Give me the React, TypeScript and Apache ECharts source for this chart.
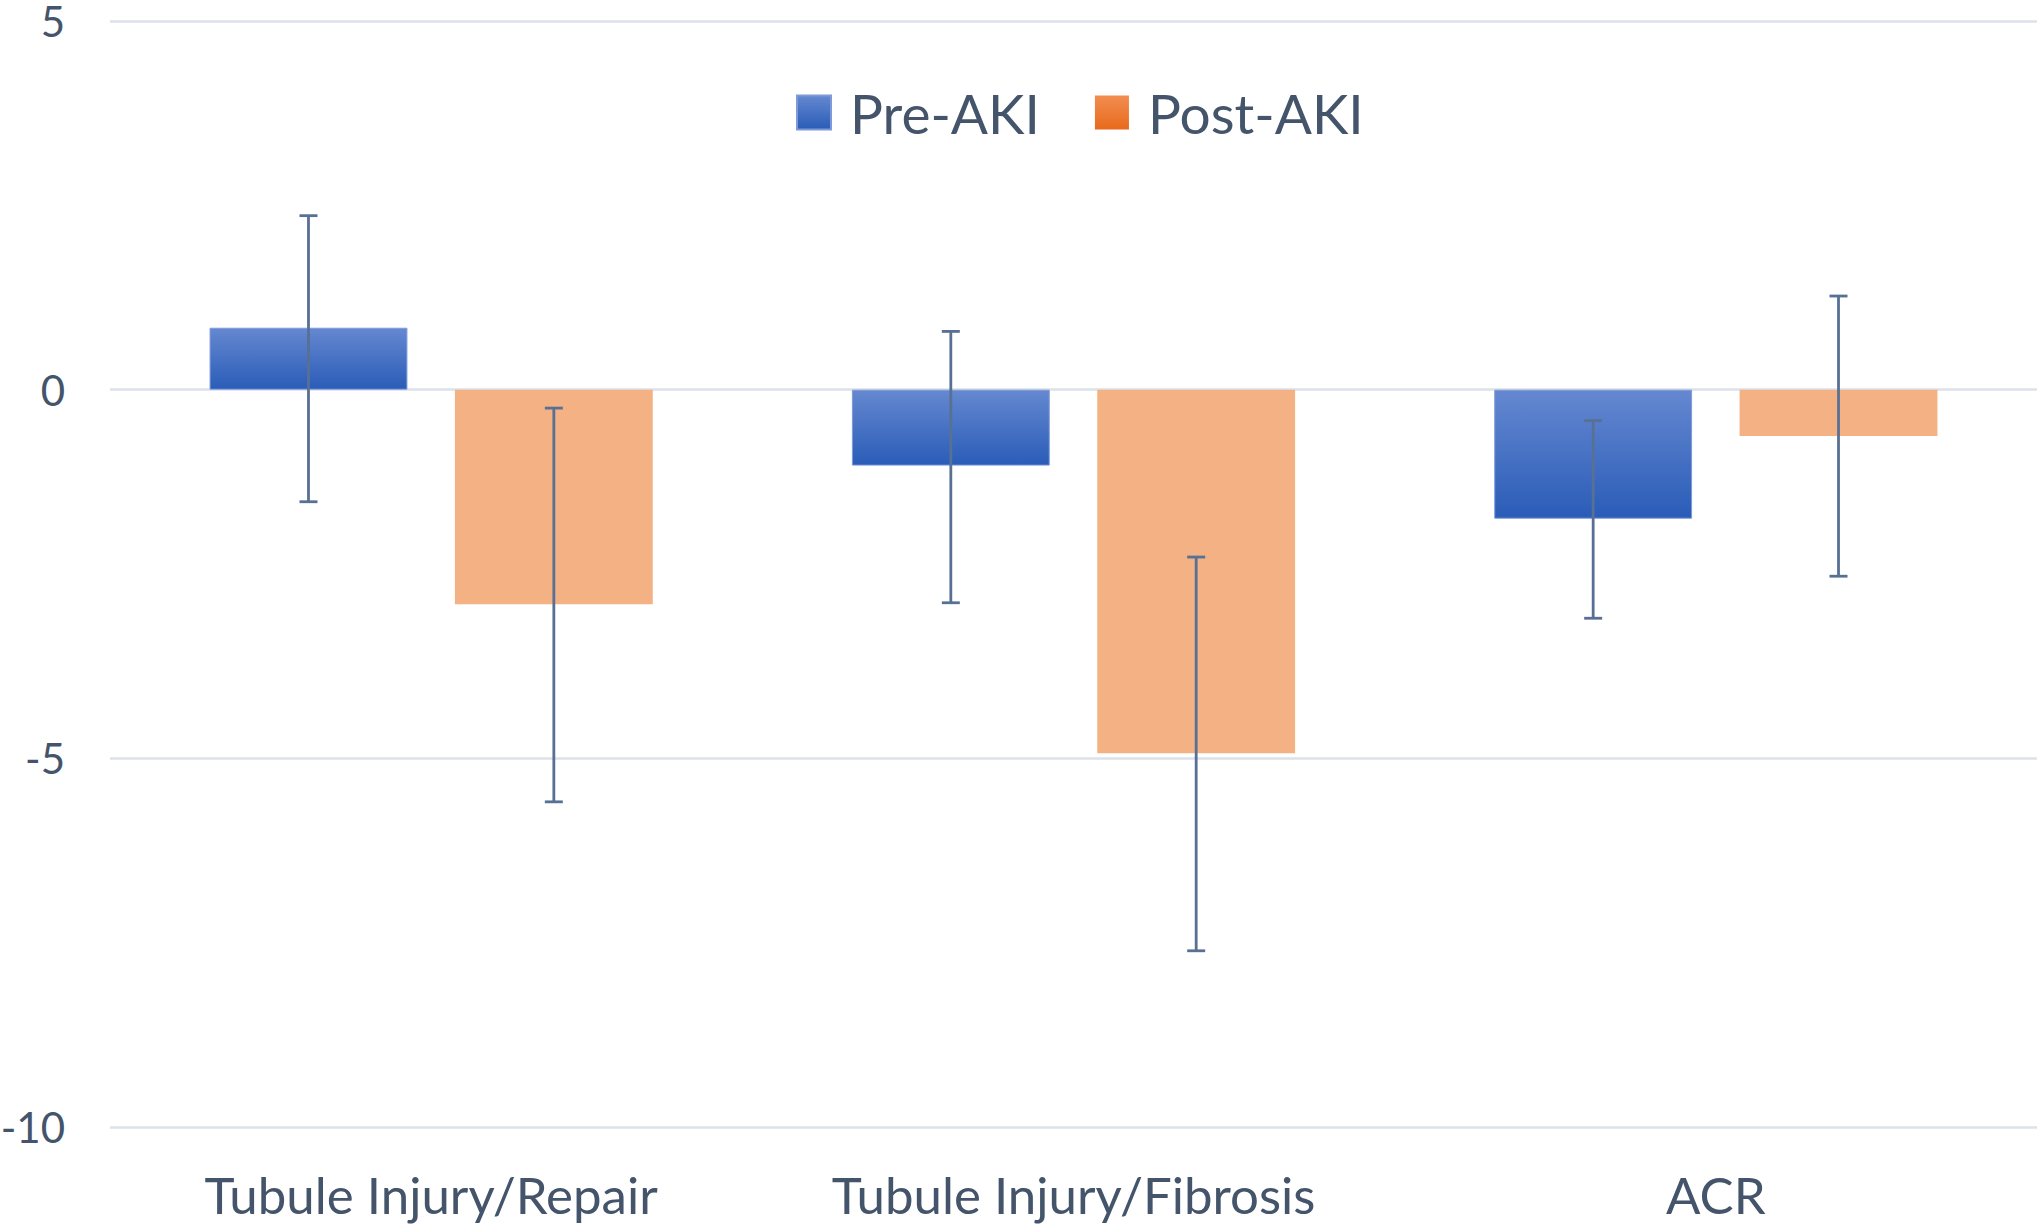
import React, { useEffect, useRef } from "react";
import * as echarts from "echarts";

const categories = ["Tubule Injury/Repair", "Tubule Injury/Fibrosis", "ACR"];
const seriesNames = ["Pre-AKI", "Post-AKI"];
const preValues = [0.84, -1.03, -1.75];
const postValues = [-2.91, -4.93, -0.63];
const preErrLow = [-1.52, -2.89, -3.1];
const preErrHigh = [2.36, 0.79, -0.42];
const postErrLow = [-5.59, -7.61, -2.53];
const postErrHigh = [-0.25, -2.27, 1.27];
const yTicks = { min: -10, max: 5, interval: 5 };

const TEXT = "#44546a";
const FONT = "Lato";
const CAT_GAP = 0.31;
const BAR_GAP = 0.24;

function errSeries(name: string, lows: number[], highs: number[], side: number) {
  return {
    type: "custom",
    name: name + " error",
    z: 10,
    silent: true,
    encode: { x: 0, y: [1, 2] },
    data: lows.map((lo, i) => [i, lo, highs[i]]),
    renderItem: (params: any, api: any) => {
      const idx = api.value(0);
      const lo = api.coord([idx, api.value(1)]);
      const hi = api.coord([idx, api.value(2)]);
      const band = api.size([1, 0])[0];
      const bw = (band * (1 - CAT_GAP)) / (2 + BAR_GAP);
      const off = ((bw + bw * BAR_GAP) / 2) * side;
      const x = lo[0] + off;
      const cap = 9;
      const style = { stroke: "#587094", lineWidth: 2.8, fill: "none" };
      return {
        type: "group",
        children: [
          { type: "line", shape: { x1: x, y1: hi[1], x2: x, y2: lo[1] }, style },
          { type: "line", shape: { x1: x - cap, y1: hi[1], x2: x + cap, y2: hi[1] }, style },
          { type: "line", shape: { x1: x - cap, y1: lo[1], x2: x + cap, y2: lo[1] }, style },
        ],
      };
    },
  };
}

export default function App() {
  const ref = useRef<HTMLDivElement>(null);
  useEffect(() => {
    document.body.style.margin = "0";
    if (!ref.current) return;
    const chart = echarts.init(ref.current, null, { renderer: "svg" });
    const preGrad = new echarts.graphic.LinearGradient(0, 0, 0, 1, [
      { offset: 0, color: "#6588d0" },
      { offset: 1, color: "#2a5cb8" },
    ]);
    const preLegendGrad = new echarts.graphic.LinearGradient(0, 0, 0, 1, [
      { offset: 0, color: "#6588d0" },
      { offset: 1, color: "#2a5cb8" },
    ]);
    const postLegendGrad = new echarts.graphic.LinearGradient(0, 0, 0, 1, [
      { offset: 0, color: "#f28d51" },
      { offset: 1, color: "#e86a1c" },
    ]);
    chart.setOption({
      animation: false,
      backgroundColor: "#ffffff",
      grid: { left: 110, right: 3, top: 21, bottom: 102, containLabel: false, outerBoundsMode: "none" },
      legend: {
        left: 791,
        top: 80,
        itemWidth: 34,
        itemHeight: 34,
        itemGap: 55,
        icon: "rect",
        data: [
          { name: seriesNames[0], itemStyle: { color: preLegendGrad } },
          { name: seriesNames[1], itemStyle: { color: postLegendGrad } },
        ],
        textStyle: { fontSize: 55, color: TEXT, fontFamily: FONT, padding: [0, 0, 0, 14] },
      },
      xAxis: {
        type: "category",
        data: categories,
        axisLine: { show: false },
        axisTick: { show: false },
        axisLabel: { fontSize: 51, color: TEXT, fontFamily: FONT, margin: 42 },
        splitLine: { show: false },
      },
      yAxis: {
        type: "value",
        min: yTicks.min,
        max: yTicks.max,
        interval: yTicks.interval,
        axisLine: { show: false },
        axisTick: { show: false },
        axisLabel: { fontSize: 42, lineHeight: 40, color: TEXT, fontFamily: FONT, margin: 45 },
        splitLine: { lineStyle: { color: "#dde1e9", width: 2.5 } },
      },
      series: [
        {
          type: "bar",
          name: seriesNames[0],
          data: preValues,
          barGap: BAR_GAP * 100 + "%",
          barCategoryGap: CAT_GAP * 100 + "%",
          itemStyle: { color: preGrad, borderColor: "#7e9ad8", borderWidth: 1 },
        },
        {
          type: "bar",
          name: seriesNames[1],
          data: postValues,
          barGap: BAR_GAP * 100 + "%",
          barCategoryGap: CAT_GAP * 100 + "%",
          itemStyle: { color: "#f4b183" },
        },
        errSeries(seriesNames[0], preErrLow, preErrHigh, -1),
        errSeries(seriesNames[1], postErrLow, postErrHigh, 1),
      ],
    });
    return () => chart.dispose();
  }, []);
  return <div ref={ref} style={{ width: 2040, height: 1229 }} />;
}
